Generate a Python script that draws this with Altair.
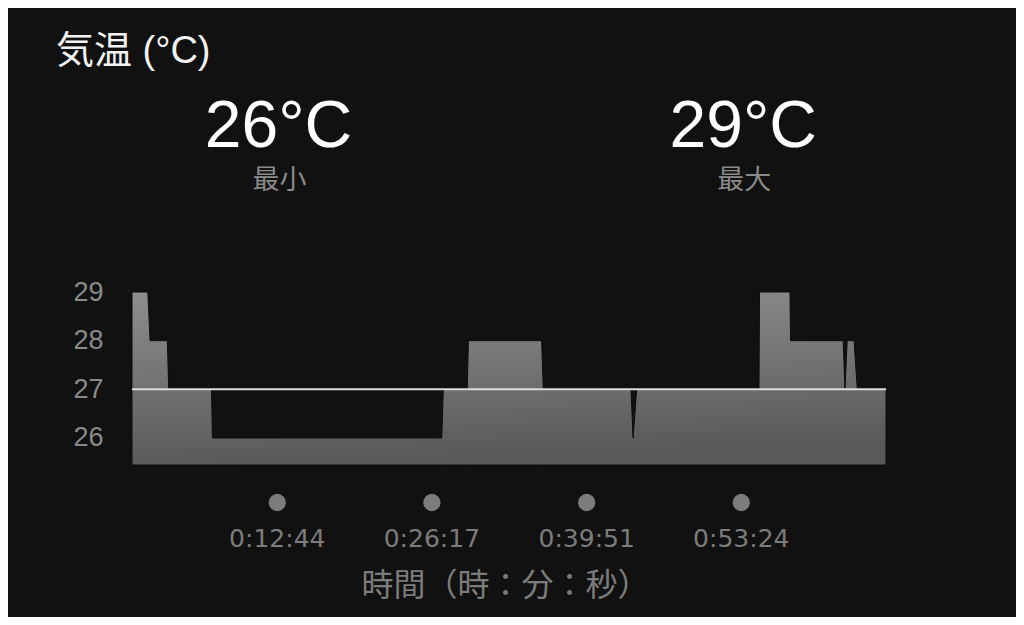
import altair as alt
import pandas as pd

# ---- data ----
times_s = [0, 83, 95, 186, 193, 418, 423, 1629, 1637, 1763, 1769, 2154, 2163,
           2624, 2635, 2654, 3297, 3300, 3460, 3463, 3740, 3749, 3761, 3797, 3814, 3965]
temps = [29, 29, 28, 28, 27, 27, 26, 26, 27, 27, 28, 28, 27,
         27, 26, 27, 27, 29, 29, 28, 28, 27, 28, 28, 27, 27]
avg_temp = [27]
tick_seconds = [764, 1577, 2391, 3204]
tick_labels = ["0:12:44", "0:26:17", "0:39:51", "0:53:24"]
y_ticks = [26, 27, 28, 29]
y_floor = 25.445
header_title = "気温 (°C)"
stat_names = ["最小", "最大"]
x_title = "時間（時：分：秒）"

LATIN = "Liberation Sans, Noto Sans CJK JP"
CJK = "Noto Sans CJK JP"

df = pd.DataFrame({"t": times_s, "temp": temps})
ticks_df = pd.DataFrame({"t": tick_seconds, "label": tick_labels})
avg_df = pd.DataFrame({"avg": avg_temp})

xscale = alt.Scale(domain=[0, 3965], nice=False, zero=False)
yscale = alt.Scale(domain=[y_floor, 29], nice=False, zero=False)

grad = alt.Gradient(
    gradient="linear",
    stops=[alt.GradientStop(color="#8e8e8e", offset=0),
           alt.GradientStop(color="#595959", offset=1)],
    x1=0, x2=0.15, y1=0, y2=1,
)

area = alt.Chart(df).mark_area(
    color=grad, stroke="#0c0c0c", strokeWidth=1, interpolate="linear"
).encode(
    x=alt.X("t:Q", scale=xscale,
            axis=alt.Axis(labels=False, ticks=False, domain=False, grid=False,
                          title=x_title, titleFont=CJK, titleFontSize=32,
                          titleFontWeight="normal", titleColor="#7c7c7c",
                          titleX=373, titleY=130, titleBaseline="alphabetic",
                          titleAlign="center")),
    y=alt.Y("temp:Q", scale=yscale,
            axis=alt.Axis(values=y_ticks, labels=True, ticks=False, domain=False,
                          grid=False, title=None, labelFont=LATIN,
                          labelFontSize=27, labelColor="#8a8a8a",
                          labelPadding=29)),
    y2=alt.datum(y_floor),
)

avg_rule = alt.Chart(avg_df).mark_rule(color="#dcdcdc", strokeWidth=2).encode(
    y=alt.Y("avg:Q", scale=yscale)
)

dots = alt.Chart(ticks_df).mark_circle(size=300, color="#7c7c7c", opacity=1).encode(
    x=alt.X("t:Q", scale=xscale),
    y=alt.value(210.5),
)

tick_text = alt.Chart(ticks_df).mark_text(
    font="DejaVu Sans", fontSize=25, color="#7c7c7c", baseline="alphabetic",
    align="center"
).encode(
    x=alt.X("t:Q", scale=xscale),
    y=alt.value(254.5),
    text="label:N",
)

title_text = alt.Chart(pd.DataFrame({"s": [header_title]})).mark_text(
    font=LATIN, fontSize=38, color="#f2f2f2", align="left", baseline="alphabetic"
).encode(x=alt.value(-76), y=alt.value(-229), text="s:N")

tmin, tmax = min(temps), max(temps)
stats = [(f"{tmin}°C", stat_names[0], 146.5), (f"{tmax}°C", stat_names[1], 611.3)]
stat_layers = []
for val, name, xpos in stats:
    stat_layers.append(
        alt.Chart(pd.DataFrame({"s": [val]})).mark_text(
            font=LATIN, fontSize=66, color="#ffffff", align="center",
            baseline="alphabetic"
        ).encode(x=alt.value(xpos), y=alt.value(-145), text="s:N")
    )
    stat_layers.append(
        alt.Chart(pd.DataFrame({"s": [name]})).mark_text(
            font=CJK, fontSize=27, color="#8a8a8a", align="center",
            baseline="alphabetic"
        ).encode(x=alt.value(xpos + 1), y=alt.value(-103), text="s:N")
    )

chart = alt.layer(area, avg_rule, dots, tick_text, title_text, *stat_layers).properties(
    width=754, height=173,
    autosize=alt.AutoSizeParams(type="none"),
    padding={"left": 124, "top": 284, "right": 130, "bottom": 152},
    background="#111111",
).configure_view(stroke=None)

chart.save("out.html", embed_options={"renderer": "svg", "actions": False})
